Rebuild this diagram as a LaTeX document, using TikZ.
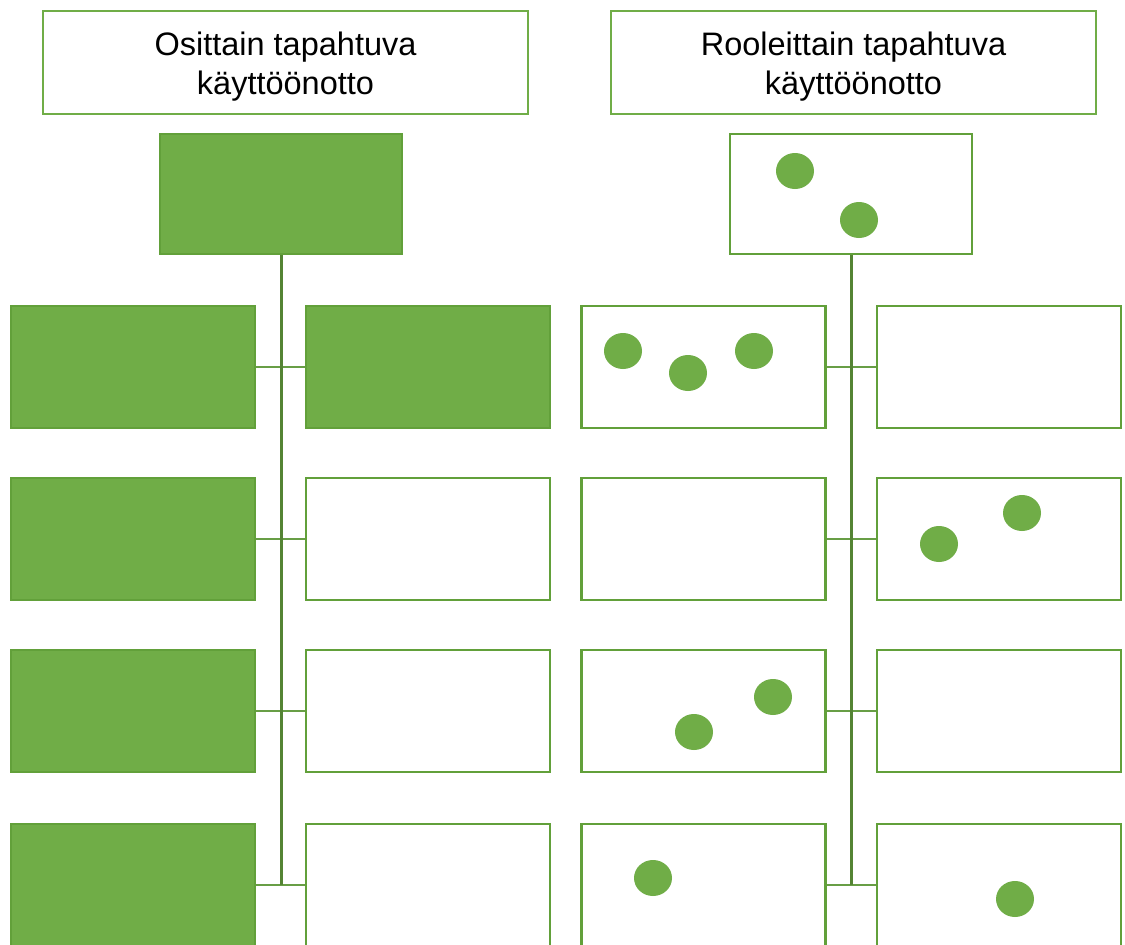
\documentclass[tikz,border=0pt]{standalone}
\usepackage{fontspec}
\setmainfont{Liberation Sans}
\usetikzlibrary{shapes.geometric}
\definecolor{gfill}{RGB}{112,173,71}
\definecolor{gline}{RGB}{98,160,58}
\definecolor{gtrunk}{RGB}{84,132,52}
\definecolor{gbranch}{RGB}{104,158,70}
\tikzset{
  header/.style={draw=gfill, line width=2.4pt, fill=white, minimum width=485pt, minimum height=103pt, inner sep=0pt},
  headtext/.style={inner sep=0pt, align=center, font=\fontsize{32.5}{39}\selectfont},
  fullbox/.style={draw=gline, line width=2.2pt, fill=gfill, minimum width=244pt, minimum height=122pt, inner sep=0pt},
  emptybox/.style={draw=gline, line width=2.2pt, fill=white, minimum width=244pt, minimum height=122pt, inner sep=0pt},
  trunk/.style={draw=gtrunk, line width=3pt},
  branch/.style={draw=gbranch, line width=2.4pt},
  dot/.style={ellipse, fill=gfill, draw=none, minimum width=38pt, minimum height=36pt, inner sep=0pt}
}
\begin{document}
\begin{tikzpicture}[x=1pt,y=-1pt]
\useasboundingbox (0,0) rectangle (1125,945);
\clip (0,0) rectangle (1125,945);
\fill[white] (0,0) rectangle (1125,945);
% headers
\node[header] (hL) at (285.5,62.5) {};
\node[header] (hR) at (853.5,62.5) {};
\node[headtext] (hLt) at ([yshift=-4pt]hL.center) {Osittain tapahtuva\\käyttöönotto};
\node[headtext] (hRt) at ([yshift=-4pt]hR.center) {Rooleittain tapahtuva\\käyttöönotto};
% trunk ends
\coordinate (eL) at (281,885);
\coordinate (eR) at (851,885);
% top boxes
\node[fullbox, minimum width=242pt, minimum height=120pt] (tL) at (281,194) {};
\node[emptybox, minimum width=242pt, minimum height=120pt] (tR) at (851,194) {};
% left column boxes
\node[fullbox] (a1) at (133,367) {};
\node[fullbox] (b1) at (428,367) {};
\node[fullbox] (a2) at (133,539) {};
\node[emptybox] (b2) at (428,539) {};
\node[fullbox] (a3) at (133,711) {};
\node[emptybox] (b3) at (428,711) {};
\node[fullbox] (a4) at (133,885) {};
\node[emptybox] (b4) at (428,885) {};
% right column boxes
\node[emptybox] (c1) at (703.5,367) {};
\node[emptybox] (d1) at (999,367) {};
\node[emptybox] (c2) at (703.5,539) {};
\node[emptybox] (d2) at (999,539) {};
\node[emptybox] (c3) at (703.5,711) {};
\node[emptybox] (d3) at (999,711) {};
\node[emptybox] (c4) at (703.5,885) {};
\node[emptybox] (d4) at (999,885) {};
% branches
\draw[branch] (a1.east) -- (b1.west);
\draw[branch] (a2.east) -- (b2.west);
\draw[branch] (a3.east) -- (b3.west);
\draw[branch] (a4.east) -- (b4.west);
\draw[branch] (c1.east) -- (d1.west);
\draw[branch] (c2.east) -- (d2.west);
\draw[branch] (c3.east) -- (d3.west);
\draw[branch] (c4.east) -- (d4.west);
% trunks
\draw[trunk] (tL.south) -- (eL);
\draw[trunk] (tR.south) -- (eR);
% dots
\node[dot] (p1) at (795,171) {};
\node[dot] (p2) at (859,220) {};
\node[dot] (p3) at (623,351) {};
\node[dot] (p4) at (688,373) {};
\node[dot] (p5) at (754,351) {};
\node[dot] (p6) at (939,544) {};
\node[dot] (p7) at (1022,513) {};
\node[dot] (p8) at (694,732) {};
\node[dot] (p9) at (773,697) {};
\node[dot] (p10) at (653,878) {};
\node[dot] (p11) at (1015,899) {};
\end{tikzpicture}
\end{document}
